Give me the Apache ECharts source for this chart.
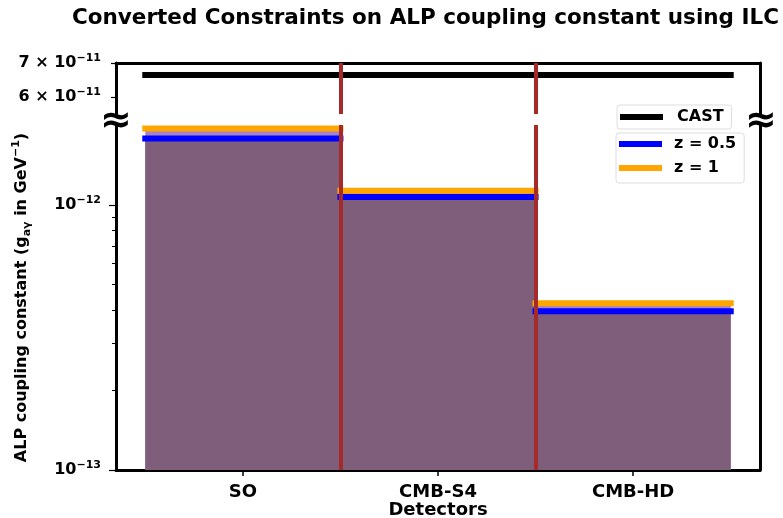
<!DOCTYPE html>
<html>
<head>
<meta charset="utf-8">
<script src="https://cdn.jsdelivr.net/npm/echarts@6/dist/echarts.min.js"></script>
<style>
  html, body { margin: 0; padding: 0; background: #fff; }
  #chart { width: 783px; height: 518px; }
</style>
</head>
<body>
<div id="chart"></div>
<script>
// 数据
var categories = ['SO', 'CMB-S4', 'CMB-HD'];
var zHalf = [1.78e-12, 1.07e-12, 3.97e-13];   // z = 0.5
var zOne = [1.94e-12, 1.13e-12, 4.25e-13];    // z = 1
var castLimit = 6.63e-11;                     // CAST
var dividers = [0.5, 1.5];

// 刻度
var topTicks = [6e-11, 7e-11];
var topTickLabels = ['{b|6 × 10}{e|−11}', '{b|7 × 10}{e|−11}'];
var bottomTicks = [1e-13, 1e-12];
var bottomTickLabels = ['{b|10}{e|−13}', '{b|10}{e|−12}'];
var bottomMinor = [2e-13, 3e-13, 4e-13, 5e-13, 6e-13, 7e-13, 8e-13, 9e-13];

var FONT = 'DejaVu Sans';
var xMin = -0.65, xMax = categories.length - 0.35;

function pickLabel(ticks, labels) {
    return function (v) {
        for (var i = 0; i < ticks.length; i++) {
            if (Math.abs(Math.log10(v / ticks[i])) < 0.005) return labels[i];
        }
        return '';
    };
}

// 上标样式
var supRich = {
    b: { fontFamily: FONT, fontSize: 16, fontWeight: 'bold', color: '#000', lineHeight: 20 },
    e: { fontFamily: FONT, fontSize: 11, fontWeight: 'bold', color: '#000', lineHeight: 12, verticalAlign: 'top' }
};

// 柱子
function barItem(color) {
    return function (params, api) {
        var i = api.value(0);
        var p0 = api.coord([i - 0.5, api.value(1)]);
        var p1 = api.coord([i + 0.5, api.value(1)]);
        var bottom = params.coordSys.y + params.coordSys.height;
        return {
            type: 'rect',
            shape: { x: p0[0], y: p0[1], width: p1[0] - p0[0], height: bottom - p0[1] },
            style: { fill: color }
        };
    };
}

// 水平线
function hItem(color) {
    return function (params, api) {
        var i = api.value(0);
        var p0 = api.coord([i - 0.5, api.value(1)]);
        var p1 = api.coord([i + 0.5, api.value(1)]);
        return {
            type: 'line',
            shape: { x1: p0[0], y1: p0[1], x2: p1[0], y2: p1[1] },
            style: { stroke: color, lineWidth: 6, lineCap: 'square' }
        };
    };
}

var redLines = {
    symbol: 'none',
    silent: true,
    label: { show: false },
    lineStyle: { color: '#a52a2a', width: 4, type: 'solid' },
    data: dividers.map(function (d) { return { xAxis: d }; })
};

var spine = { show: true, onZero: false, lineStyle: { color: '#000', width: 3 } };

var chart = echarts.init(document.getElementById('chart'));

var option = {
    animation: false,
    textStyle: { fontFamily: FONT },
    title: {
        text: 'Converted Constraints on ALP coupling constant using ILC',
        left: 67, top: 2,
        textStyle: { fontFamily: FONT, fontSize: 21.5, fontWeight: 'bold', color: '#000' }
    },
    legend: [{
        data: ['CAST'],
        left: 617, top: 105,
        orient: 'vertical',
        padding: [4, 8, 4, 3],
        itemWidth: 43, itemHeight: 6,
        icon: 'rect',
        borderColor: '#dddddd', borderWidth: 1, borderRadius: 3,
        backgroundColor: 'rgba(255,255,255,0.8)',
        textStyle: { fontFamily: FONT, fontSize: 16, fontWeight: 'bold', color: '#000', lineHeight: 16, padding: [0, 0, 0, 9] }
    }, {
        data: ['z = 0.5', 'z = 1'],
        left: 616, top: 133,
        orient: 'vertical',
        padding: [3, 8, 7, 3],
        itemGap: 8,
        itemWidth: 43, itemHeight: 6,
        icon: 'rect',
        borderColor: '#dddddd', borderWidth: 1, borderRadius: 3,
        backgroundColor: 'rgba(255,255,255,0.8)',
        textStyle: { fontFamily: FONT, fontSize: 16, fontWeight: 'bold', color: '#000', lineHeight: 16, padding: [0, 0, 0, 7] }
    }],
    grid: [
        { left: 116, right: 23, top: 63, height: 51, outerBoundsMode: 'none' },
        { left: 116, right: 23, top: 125, bottom: 48, outerBoundsMode: 'none' }
    ],
    xAxis: [{
        gridIndex: 0, type: 'value', position: 'top', min: xMin, max: xMax,
        axisLine: spine,
        axisTick: { show: false }, axisLabel: { show: false }, splitLine: { show: false }
    }, {
        gridIndex: 1, type: 'value', position: 'bottom', min: xMin, max: xMax,
        name: 'Detectors', nameLocation: 'middle', nameGap: 31, nameMoveOverlap: false,
        nameTextStyle: { fontFamily: FONT, fontSize: 18, fontWeight: 'bold', color: '#000', lineHeight: 18 },
        axisLine: spine,
        axisTick: { show: true, customValues: [0, 1, 2], length: 6, lineStyle: { color: '#000', width: 1.5 } },
        axisLabel: {
            customValues: [0, 1, 2], margin: 13,
            fontFamily: FONT, fontSize: 18, fontWeight: 'bold', color: '#000',
            formatter: function (v) { return categories[Math.round(v)]; }
        },
        splitLine: { show: false }
    }],
    yAxis: [{
        gridIndex: 0, type: 'log', position: 'left', min: 5.56e-11, max: 7e-11,
        axisLine: spine,
        axisTick: { show: true, customValues: topTicks, length: 5, lineStyle: { color: '#000', width: 1.2 } },
        axisLabel: {
            customValues: topTicks, margin: 15,
            formatter: pickLabel(topTicks, topTickLabels), rich: supRich
        },
        splitLine: { show: false }
    }, {
        gridIndex: 0, type: 'log', position: 'right', min: 5.56e-11, max: 7e-11,
        axisLine: spine,
        axisTick: { show: false }, axisLabel: { show: false }, splitLine: { show: false }
    }, {
        gridIndex: 1, type: 'log', position: 'left', min: 1e-13, max: 2e-12,
        name: '{n|ALP coupling constant (g}{s|aγ}{n| in GeV}{e|−1}{n|)}',
        nameLocation: 'middle', nameRotate: 90, nameGap: 83, nameMoveOverlap: false,
        nameTextStyle: {
            rich: {
                n: { fontFamily: FONT, fontSize: 16, fontWeight: 'bold', color: '#000', lineHeight: 22 },
                s: { fontFamily: FONT, fontSize: 11, fontWeight: 'bold', color: '#000', verticalAlign: 'bottom', lineHeight: 22 },
                e: { fontFamily: FONT, fontSize: 11, fontWeight: 'bold', color: '#000', verticalAlign: 'top', lineHeight: 14 }
            }
        },
        axisLine: spine,
        axisTick: { show: true, customValues: bottomTicks, length: 7, lineStyle: { color: '#000', width: 1.2 } },
        axisLabel: {
            customValues: bottomTicks, margin: 15,
            formatter: pickLabel(bottomTicks, bottomTickLabels), rich: supRich
        },
        splitLine: { show: false }
    }, {
        gridIndex: 1, type: 'log', position: 'left', min: 1e-13, max: 2e-12,
        axisLine: { show: false, onZero: false },
        axisTick: { show: true, customValues: bottomMinor, length: 4, lineStyle: { color: '#000', width: 1 } },
        axisLabel: { show: false }, splitLine: { show: false }
    }, {
        gridIndex: 1, type: 'log', position: 'right', min: 1e-13, max: 2e-12,
        axisLine: spine,
        axisTick: { show: false }, axisLabel: { show: false }, splitLine: { show: false }
    }],
    series: [{
        name: 'CAST', type: 'custom', xAxisIndex: 0, yAxisIndex: 0,
        itemStyle: { color: '#000' },
        data: [[castLimit]],
        renderItem: function (params, api) {
            var p0 = api.coord([-0.5, api.value(0)]);
            var p1 = api.coord([categories.length - 0.5, api.value(0)]);
            return {
                type: 'line',
                shape: { x1: p0[0], y1: p0[1], x2: p1[0], y2: p1[1] },
                style: { stroke: '#000', lineWidth: 6, lineCap: 'square' }
            };
        },
        markLine: redLines,
        z: 2
    }, {
        name: 'barsHi', type: 'custom', xAxisIndex: 1, yAxisIndex: 2,
        data: zOne.map(function (v, i) { return [i, v]; }),
        renderItem: barItem('#a583c4'),
        z: 1
    }, {
        name: 'bars', type: 'custom', xAxisIndex: 1, yAxisIndex: 2,
        data: zHalf.map(function (v, i) { return [i, v]; }),
        renderItem: barItem('#7f5e7b'),
        z: 1
    }, {
        name: 'z = 0.5', type: 'custom', xAxisIndex: 1, yAxisIndex: 2,
        itemStyle: { color: '#0000ff' },
        data: zHalf.map(function (v, i) { return [i, v]; }),
        renderItem: hItem('#0000ff'),
        z: 2
    }, {
        name: 'z = 1', type: 'custom', xAxisIndex: 1, yAxisIndex: 2,
        itemStyle: { color: '#ffa500' },
        data: zOne.map(function (v, i) { return [i, v]; }),
        renderItem: hItem('#ffa500'),
        markLine: redLines,
        z: 2
    }],
    graphic: [
        { type: 'text', left: 100, top: 103, z: 100,
          style: { text: '≈', fontFamily: FONT, fontSize: 38, fontWeight: 'bold', fill: '#000' } },
        { type: 'text', left: 745, top: 103, z: 100,
          style: { text: '≈', fontFamily: FONT, fontSize: 38, fontWeight: 'bold', fill: '#000' } }
    ]
};

chart.setOption(option);
</script>
</body>
</html>
